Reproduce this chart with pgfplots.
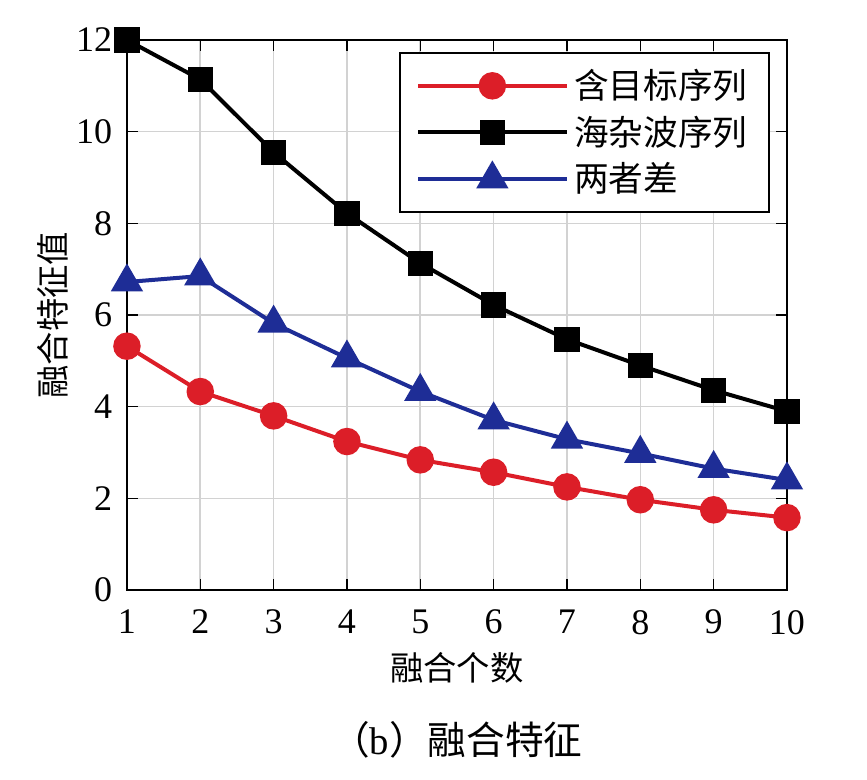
\documentclass[border=0pt]{standalone}
\usepackage{fontspec}
\setmainfont{Liberation Serif}
\newfontfamily\cjk{Noto Sans CJK SC}
\usepackage{pgfplots}
\pgfplotsset{compat=1.18}
\definecolor{cred}{RGB}{220,30,40}
\definecolor{cblue}{RGB}{30,45,150}
\begin{document}
\begin{tikzpicture}
\begin{axis}[
  name=ax,
  scale only axis,
  width=247.5pt, height=206.25pt,
  xmin=1, xmax=10, ymin=0, ymax=12,
  xtick={1,2,...,10}, ytick={0,2,...,12},
  tick align=inside,
  major tick length=4pt,
  tick style={black, line width=0.5pt},
  grid=major,
  grid style={gray!35, line width=0.6pt},
  axis line style={black, line width=0.9pt},
  /pgf/number format/assume math mode=true,
  ticklabel style={font=\fontsize{13.5}{14}\selectfont},
  xticklabel style={yshift=-4pt},
  yticklabel style={xshift=-2pt},
  xlabel={\cjk 融合个数},
  ylabel={\cjk 融合特征值},
  xlabel style={font=\fontsize{12.5}{14}\selectfont, yshift=0pt},
  ylabel style={font=\fontsize{12.5}{14}\selectfont, yshift=-4pt},
  clip=false,
  legend cell align=left,
  legend style={at={(0.974,0.978)}, anchor=north east, draw=black, line width=0.8pt,
    font=\fontsize{13}{14}\selectfont, row sep=1pt, inner xsep=6pt, inner ysep=4pt},
  legend image code/.code={\draw[mark repeat=2,mark phase=2] plot coordinates {(0cm,0cm) (0.98cm,0cm) (1.96cm,0cm)};},
]
\addplot[cred, line width=1.5pt, mark=*, mark size=4.4pt, mark options={solid, fill=cred}]
  coordinates {(1,5.32) (2,4.33) (3,3.80) (4,3.24) (5,2.84) (6,2.57) (7,2.25) (8,1.97) (9,1.75) (10,1.58)};
\addlegendentry{\cjk 含目标序列}
\addplot[black, line width=1.5pt, mark=square*, mark size=4pt, mark options={solid, fill=black}]
  coordinates {(1,12.0) (2,11.14) (3,9.55) (4,8.22) (5,7.13) (6,6.22) (7,5.47) (8,4.90) (9,4.36) (10,3.90)};
\addlegendentry{\cjk 海杂波序列}
\addplot[cblue, line width=1.5pt, mark=triangle*, mark size=5.5pt, mark options={solid, fill=cblue}]
  coordinates {(1,6.72) (2,6.85) (3,5.82) (4,5.06) (5,4.33) (6,3.71) (7,3.29) (8,2.98) (9,2.65) (10,2.40)};
\addlegendentry{\cjk 两者差}
\end{axis}
\node[font=\fontsize{14.5}{16}\selectfont] at (123.75pt,-56pt) {{\cjk （}b{\cjk ）融合特征}};
\pgfresetboundingbox
\path[use as bounding box] (-47.6pt,-70.9pt) rectangle (277.5pt,221.25pt);
\end{tikzpicture}
\end{document}
